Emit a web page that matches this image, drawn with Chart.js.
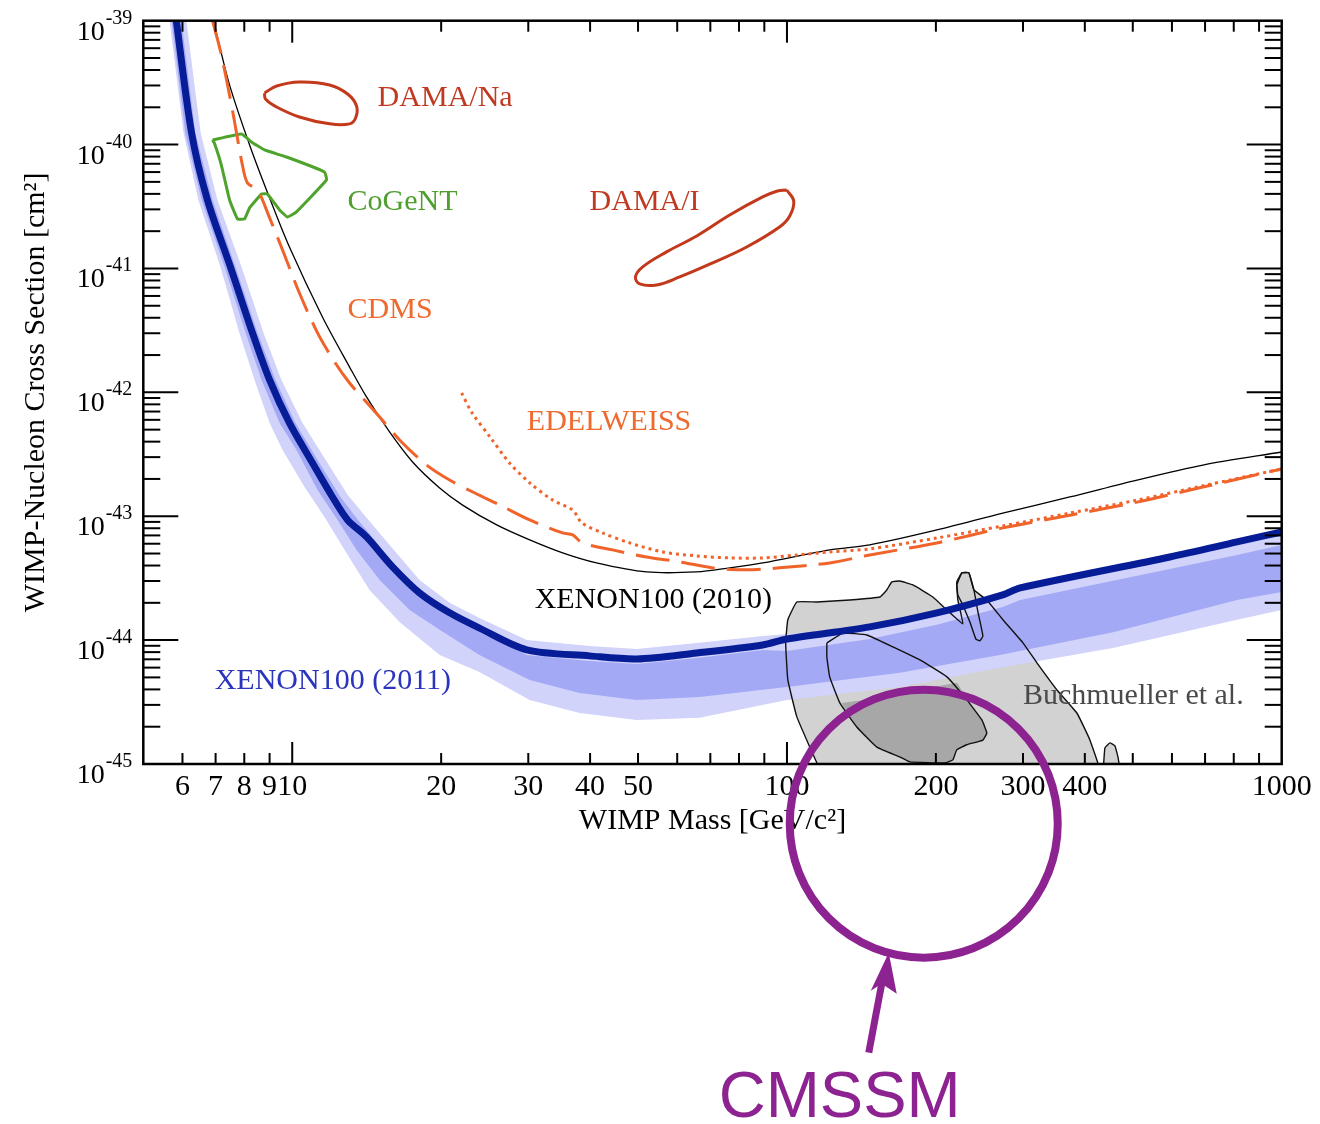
<!DOCTYPE html>
<html>
<head>
<meta charset="utf-8">
<script src="https://cdn.jsdelivr.net/npm/chart.js"></script>
<style>
  html, body { margin: 0; padding: 0; background: #fff; }
  #wrap { width: 1320px; height: 1124px; position: relative; }
</style>
</head>
<body>
<div id="wrap"><canvas id="limitChart"></canvas></div>
<script>
// WIMP mass in GeV/c^2, cross section in cm^2

// XENON100 (2011) limit, thick blue
const xenon2011Mass = [5.83, 6.26, 6.74, 7.50, 8.31, 9.00, 9.87, 10.99, 12.06, 12.94, 14.13, 15.95, 18.09, 20.8, 23.9, 29.8, 39.9, 49.7, 65.7, 89.3, 100, 147, 201, 273, 296, 594, 812, 1000];
const xenon2011Sigma = [1.0e-39, 1.24e-40, 3.57e-41, 1.03e-41, 3.02e-42, 1.26e-42, 5.66e-43, 2.69e-43, 1.43e-43, 9.33e-44, 6.81e-44, 3.90e-44, 2.40e-44, 1.66e-44, 1.25e-44, 8.34e-45, 7.46e-45, 7.05e-45, 7.88e-45, 9.14e-45, 1.02e-44, 1.28e-44, 1.66e-44, 2.32e-44, 2.64e-44, 4.69e-44, 6.20e-44, 7.47e-44];

// expected sensitivity, 2 sigma band (light)
const band2UpperMass = [6.11, 6.53, 7.06, 7.90, 8.75, 9.51, 10.49, 11.79, 12.94, 14.0, 15.73, 18.09, 20.8, 23.9, 29.8, 39.9, 49.7, 65.7, 89.3, 100, 147, 201, 273, 296, 594, 812, 1000];
const band2UpperSigma = [1.0e-39, 1.24e-40, 3.57e-41, 1.03e-41, 3.02e-42, 1.26e-42, 5.66e-43, 2.69e-43, 1.49e-43, 1.02e-43, 5.87e-44, 3.06e-44, 2.00e-44, 1.51e-44, 1.00e-44, 8.98e-45, 8.49e-45, 9.49e-45, 1.08e-44, 1.12e-44, 1.28e-44, 1.66e-44, 2.32e-44, 2.64e-44, 4.69e-44, 6.20e-44, 7.47e-44];
const band2LowerMass = [5.65, 6.03, 6.46, 7.16, 7.82, 8.39, 9.00, 9.56, 10.59, 11.62, 12.76, 14.33, 16.48, 19.86, 23.9, 30.2, 38.1, 49.7, 66.6, 100, 169.1, 269.4, 456, 812, 1000];
const band2LowerSigma = [1.0e-39, 1.24e-40, 3.57e-41, 1.03e-41, 3.02e-42, 1.26e-42, 5.66e-43, 3.43e-43, 1.72e-43, 9.87e-44, 5.35e-44, 2.54e-44, 1.40e-44, 7.59e-45, 5.54e-45, 3.29e-45, 2.58e-45, 2.27e-45, 2.36e-45, 3.29e-45, 4.19e-45, 5.97e-45, 8.65e-45, 1.46e-44, 1.75e-44];

// 1 sigma band (darker)
const band1UpperMass = [5.97, 6.37, 6.90, 7.68, 8.51, 9.25, 10.15, 11.35, 12.52, 13.43, 14.67, 16.48, 18.51, 20.8, 23.9, 29.8, 39.9, 49.7, 65.7, 89.3, 100, 147, 201, 273, 296, 594, 812, 1000];
const band1UpperSigma = [1.0e-39, 1.24e-40, 3.57e-41, 1.03e-41, 3.02e-42, 1.26e-42, 5.66e-43, 2.69e-43, 1.43e-43, 9.87e-44, 6.44e-44, 3.55e-44, 2.19e-44, 1.54e-44, 1.16e-44, 7.59e-45, 6.79e-45, 6.43e-45, 7.18e-45, 8.33e-45, 8.18e-45, 1.02e-44, 1.33e-44, 1.85e-44, 2.11e-44, 3.75e-44, 4.87e-44, 5.87e-44];
const band1LowerMass = [5.70, 6.08, 6.56, 7.30, 8.05, 8.67, 9.43, 10.20, 11.25, 12.35, 13.49, 15.02, 17.27, 19.86, 23.9, 30.2, 38.1, 49.7, 66.6, 100, 169.1, 269.4, 456, 812, 1000];
const band1LowerSigma = [1.0e-39, 1.24e-40, 3.57e-41, 1.03e-41, 3.02e-42, 1.26e-42, 5.66e-43, 3.43e-43, 1.63e-43, 9.34e-44, 5.35e-44, 3.06e-44, 1.75e-44, 1.21e-44, 7.59e-45, 4.77e-45, 3.75e-45, 3.29e-45, 3.48e-45, 4.19e-45, 5.44e-45, 7.59e-45, 1.16e-44, 2.11e-44, 2.45e-44];

// XENON100 (2010), thin black
const xenon2010Mass = [6.93, 7.47, 8.20, 9.00, 9.87, 11.51, 13.06, 14.13, 15.73, 17.51, 19.86, 22.1, 25.9, 30.2, 35.2, 41.2, 52.0, 65.7, 76.6, 89.3, 122, 147, 201, 273, 373, 510, 693, 1000];
const xenon2010Sigma = [1.0e-39, 3.03e-40, 9.93e-41, 3.71e-41, 1.49e-41, 4.06e-42, 1.60e-42, 9.18e-43, 4.79e-43, 2.74e-43, 1.69e-43, 1.23e-43, 8.51e-44, 6.44e-44, 5.06e-44, 4.20e-44, 3.55e-44, 3.55e-44, 3.83e-44, 4.20e-44, 5.35e-44, 5.87e-44, 7.75e-44, 1.06e-43, 1.43e-43, 1.96e-43, 2.59e-43, 3.30e-43];

// CDMS, dashed
const cdmsMass = [6.90, 7.19, 7.57, 7.93, 8.12, 8.51, 9.00, 9.56, 10.34, 11.25, 12.18, 13.06, 14.0, 15.02, 16.48, 18.69, 20.8, 23.4, 26.3, 30.2, 35.2, 36.9, 38.6, 44.4, 52.0, 60.7, 70.8, 82.9, 96.6, 122, 147, 201, 273, 373, 510, 693, 1000];
const cdmsSigma = [1.0e-39, 5.29e-40, 1.90e-40, 6.84e-41, 4.90e-41, 4.30e-41, 2.56e-41, 1.41e-41, 6.34e-42, 3.02e-42, 1.76e-42, 1.19e-42, 8.68e-43, 6.33e-43, 4.13e-43, 2.59e-43, 1.96e-43, 1.54e-43, 1.23e-43, 9.33e-44, 7.33e-44, 7.06e-44, 6.09e-44, 5.35e-44, 4.69e-44, 4.28e-44, 3.83e-44, 3.69e-44, 3.83e-44, 4.20e-44, 4.87e-44, 6.09e-44, 8.05e-44, 1.02e-43, 1.30e-43, 1.72e-43, 2.41e-43];

// EDELWEISS, dotted
const edelweissMass = [22.0, 23.1, 25.1, 27.5, 30.2, 33.6, 36.9, 38.5, 42.4, 48.1, 56.1, 65.7, 76.6, 89.3, 105, 122, 147, 201, 273, 373, 510, 693, 1000];
const edelweissSigma = [9.89e-43, 6.82e-43, 4.37e-43, 2.69e-43, 1.86e-43, 1.35e-43, 1.12e-43, 8.83e-44, 7.33e-44, 6.09e-44, 5.15e-44, 4.78e-44, 4.61e-44, 4.61e-44, 4.87e-44, 5.15e-44, 5.45e-44, 6.68e-44, 8.35e-44, 1.06e-43, 1.35e-43, 1.76e-43, 2.41e-43];

// closed contours
const damaNaMass = [8.79, 9.30, 10.34, 11.90, 12.94, 13.49, 13.43, 13.06, 11.90, 10.34, 9.30, 8.83, 8.79];
const damaNaSigma = [2.61e-40, 2.97e-40, 3.20e-40, 3.03e-40, 2.56e-40, 2.05e-40, 1.64e-40, 1.47e-40, 1.47e-40, 1.67e-40, 2.01e-40, 2.33e-40, 2.61e-40];

const damaIMass = [99.9, 103.2, 101.3, 96.6, 82.9, 70.8, 60.7, 54.5, 50.4, 49.4, 51.1, 57.1, 65.7, 76.6, 89.3, 95.7, 99.9];
const damaISigma = [4.30e-41, 3.51e-41, 2.65e-41, 2.16e-41, 1.49e-41, 1.11e-41, 8.54e-42, 7.36e-42, 7.50e-42, 8.54e-42, 1.03e-41, 1.36e-41, 1.83e-41, 2.70e-41, 3.78e-41, 4.22e-41, 4.30e-41];

const cogentMass = [6.90, 7.90, 8.27, 8.79, 9.74, 11.62, 11.73, 10.20, 9.78, 9.43, 8.91, 8.67, 8.20, 8.01, 7.75, 7.47, 7.19, 6.96, 6.90];
const cogentSigma = [1.09e-40, 1.22e-40, 1.05e-40, 9.05e-41, 7.94e-41, 6.01e-41, 5.18e-41, 2.86e-41, 2.60e-41, 2.97e-41, 3.99e-41, 3.99e-41, 3.08e-41, 2.51e-41, 2.51e-41, 3.57e-41, 6.84e-41, 1.03e-40, 1.09e-40];

// Buchmueller et al. (CMSSM) regions
const cmssmOuterMass = [118.1, 111.2, 104.7, 100.4, 99.4, 100.4, 104.7, 114.9, 134.0, 154.1, 159.1, 162.9, 169.1, 179.7, 197.2, 210.5, 226.7, 221.5, 220.4, 225.7, 233.2, 238.7, 253.5, 273.2, 299.9, 320.1, 351.3, 385.5, 409.6, 429.2, 118.1];
const cmssmOuterSigma = [8e-46, 1.37e-45, 2.40e-45, 4.77e-45, 9.49e-45, 1.46e-44, 2.03e-44, 2.03e-44, 2.11e-44, 2.23e-44, 2.54e-44, 2.95e-44, 3.00e-44, 2.79e-44, 2.23e-44, 1.75e-44, 1.35e-44, 2.11e-44, 2.95e-44, 3.49e-44, 3.49e-44, 2.54e-44, 2.11e-44, 1.46e-44, 9.49e-45, 6.55e-45, 3.96e-45, 2.58e-45, 1.56e-45, 8e-46, 8e-46];

const cmssmFingerMass = [220.4, 225.7, 233.2, 238.7, 243.2, 248.9, 245.4, 240.9, 234.3, 226.7, 221.5, 220.4];
const cmssmFingerSigma = [2.79e-44, 3.49e-44, 3.49e-44, 2.54e-44, 1.69e-44, 1.08e-44, 9.85e-45, 1.02e-44, 1.40e-44, 1.92e-44, 2.32e-44, 2.79e-44];

const cmssmIslandMass = [435.1, 439.2, 449.5, 460.1, 466.7, 471.0, 435.1];
const cmssmIslandSigma = [8e-46, 1.35e-45, 1.48e-45, 1.40e-45, 1.14e-45, 8e-46, 8e-46];

const cmssmInnerMass = [120.4, 129.7, 145.0, 163.7, 185.6, 210.5, 231.0, 247.7, 253.5, 248.9, 231.0, 220.4, 216.4, 208.5, 177.1, 169.1, 151.9, 138.4, 127.9, 122.0, 120.4, 120.4];
const cmssmInnerSigma = [9.49e-45, 1.14e-44, 1.10e-44, 8.81e-45, 6.92e-45, 5.05e-45, 3.29e-45, 2.27e-45, 1.78e-45, 1.56e-45, 1.43e-45, 1.30e-45, 1.08e-45, 1.02e-45, 1.04e-45, 1.14e-45, 1.37e-45, 1.99e-45, 3.11e-45, 5.05e-45, 7.32e-45, 9.49e-45];

const cmssmCoreMass = [129.1, 169.1, 220.4, 231.0, 247.7, 253.5, 248.9, 231.0, 220.4, 216.4, 208.5, 177.1, 169.1, 151.9, 138.4, 129.1];
const cmssmCoreSigma = [3.11e-45, 3.61e-45, 4.51e-45, 3.29e-45, 2.27e-45, 1.78e-45, 1.56e-45, 1.43e-45, 1.30e-45, 1.08e-45, 1.02e-45, 1.04e-45, 1.14e-45, 1.37e-45, 1.99e-45, 3.11e-45];

// axis ticks
const xTickValues = [6, 7, 8, 9, 10, 20, 30, 40, 50, 60, 70, 80, 90, 100, 200, 300, 400, 500, 600, 700, 800, 900, 1000];
const xTickLabels = ['6', '7', '8', '9', '10', '20', '30', '40', '50', '', '', '', '', '100', '200', '300', '400', '', '', '', '', '', '1000'];
const yDecades = [-45, -44, -43, -42, -41, -40, -39];
const yMinorSteps = [2, 3, 4, 5, 6, 7, 8, 9];

// text annotations inside the frame
const seriesLabels = [
    { text: 'DAMA/Na', mass: 14.88, sigma: 2.05e-40, color: '#c03a22' },
    { text: 'CoGeNT', mass: 12.94, sigma: 2.96e-41, color: '#4f9f2f' },
    { text: 'DAMA/I', mass: 39.9, sigma: 2.96e-41, color: '#c03a22' },
    { text: 'CDMS', mass: 12.94, sigma: 3.99e-42, color: '#ee6a2e' },
    { text: 'EDELWEISS', mass: 29.8, sigma: 4.97e-43, color: '#ee6a2e' },
    { text: 'XENON100 (2010)', mass: 30.9, sigma: 1.82e-44, color: '#000000' },
    { text: 'XENON100 (2011)', mass: 6.97, sigma: 4.04e-45, color: '#2a34bd' },
    { text: 'Buchmueller et al.', mass: 299.9, sigma: 3.05e-45, color: '#4a4a4a' }
];

const PURPLE = '#8c2390';
const SERIF = '"Liberation Serif", "Times New Roman", serif';

function toPoints(mass, sigma) {
    return mass.map((m, i) => ({ x: m, y: sigma[i] }));
}

function bandPolygon(upM, upS, loM, loS) {
    return toPoints(upM, upS).concat(toPoints(loM, loS).reverse());
}

function isDecade(v) {
    const l = Math.log10(v);
    return Math.abs(l - Math.round(l)) < 1e-6;
}

const yTickValues = [];
yDecades.forEach((d, i) => {
    const base = Math.pow(10, d);
    yTickValues.push(base);
    if (i < yDecades.length - 1) yMinorSteps.forEach(s => yTickValues.push(s * base));
});

function curve(label, pts, color, width, order, extra) {
    return Object.assign({
        label: label, data: pts, borderColor: color, borderWidth: width,
        pointRadius: 0, fill: false, tension: 0.3, order: order
    }, extra || {});
}

function region(label, pts, color, order) {
    return {
        label: label, data: pts, backgroundColor: color, borderColor: 'rgba(0,0,0,0)',
        borderWidth: 0, pointRadius: 0, fill: 'shape', tension: 0.1, order: order
    };
}

const outerPts = toPoints(cmssmOuterMass, cmssmOuterSigma);
const fingerPts = toPoints(cmssmFingerMass, cmssmFingerSigma);
const islandPts = toPoints(cmssmIslandMass, cmssmIslandSigma);
const innerPts = toPoints(cmssmInnerMass, cmssmInnerSigma);

const datasets = [
    region('CMSSM 95%', outerPts, '#d2d2d2', 20),
    region('CMSSM 95% b', fingerPts, '#d2d2d2', 20),
    region('CMSSM 95% c', islandPts, '#d2d2d2', 20),
    region('CMSSM 68%', toPoints(cmssmCoreMass, cmssmCoreSigma), '#a7a7a7', 19),
    Object.assign(region('2 sigma', bandPolygon(band2UpperMass, band2UpperSigma, band2LowerMass, band2LowerSigma), '#d1d3fa', 18), { tension: 0 }),
    Object.assign(region('1 sigma', bandPolygon(band1UpperMass, band1UpperSigma, band1LowerMass, band1LowerSigma), '#a4a9f6', 17), { tension: 0 }),
    curve('outer contour', outerPts, '#111', 1.4, 10, { tension: 0.1 }),
    curve('finger contour', fingerPts, '#111', 1.4, 10, { tension: 0.1 }),
    curve('island contour', islandPts, '#111', 1.4, 10, { tension: 0.1 }),
    curve('inner contour', innerPts, '#111', 1.4, 10, { tension: 0.1 }),
    curve('DAMA/Na', toPoints(damaNaMass, damaNaSigma), '#c3391c', 3, 6, { tension: 0.4 }),
    curve('DAMA/I', toPoints(damaIMass, damaISigma), '#c3391c', 3, 6, { tension: 0.4 }),
    curve('CoGeNT', toPoints(cogentMass, cogentSigma), '#4ea32c', 3, 6, { tension: 0.1 }),
    curve('XENON100 (2010)', toPoints(xenon2010Mass, xenon2010Sigma), '#000', 1.3, 6),
    curve('CDMS', toPoints(cdmsMass, cdmsSigma), '#f0632a', 3, 5, { borderDash: [34, 12] }),
    curve('EDELWEISS', toPoints(edelweissMass, edelweissSigma), '#f0632a', 3, 5, { borderDash: [3, 4] }),
    curve('XENON100 (2011)', toPoints(xenon2011Mass, xenon2011Sigma), '#071c97', 7, 1)
];

const overlayPlugin = {
    id: 'overlay',
    afterDatasetsDraw(chart) {
        const { ctx, chartArea: a, scales: { x, y } } = chart;
        ctx.save();
        ctx.strokeStyle = '#000';
        ctx.lineWidth = 2;
        const seg = (x1, y1, x2, y2) => { ctx.beginPath(); ctx.moveTo(x1, y1); ctx.lineTo(x2, y2); ctx.stroke(); };
        x.ticks.forEach(t => {
            const px = x.getPixelForValue(t.value);
            if (px < a.left + 2 || px > a.right - 2) return;
            const len = isDecade(t.value) ? 22 : 11;
            seg(px, a.bottom, px, a.bottom - len);
            seg(px, a.top, px, a.top + len);
        });
        y.ticks.forEach(t => {
            const py = y.getPixelForValue(t.value);
            if (py < a.top + 2 || py > a.bottom - 2) return;
            const len = isDecade(t.value) ? 35 : 17;
            seg(a.left, py, a.left + len, py);
            seg(a.right, py, a.right - len, py);
        });
        ctx.lineWidth = 2.5;
        ctx.strokeRect(a.left, a.top, a.right - a.left, a.bottom - a.top);

        // decade labels 10^n with a raised exponent
        ctx.fillStyle = '#000';
        ctx.textBaseline = 'alphabetic';
        const right = a.left - 11;
        yDecades.forEach(d => {
            const py = y.getPixelForValue(Math.pow(10, d));
            const exp = String(d);
            ctx.font = '20px ' + SERIF;
            const ew = ctx.measureText(exp).width;
            ctx.textAlign = 'left';
            ctx.fillText(exp, right - ew, py + 3);
            ctx.font = '28px ' + SERIF;
            ctx.textAlign = 'right';
            ctx.fillText('10', right - ew - 1, py + 19);
        });

        ctx.font = '30px ' + SERIF;
        ctx.textAlign = 'left';
        seriesLabels.forEach(l => {
            ctx.fillStyle = l.color;
            ctx.fillText(l.text, x.getPixelForValue(l.mass), y.getPixelForValue(l.sigma));
        });
        ctx.restore();
    },
    afterDraw(chart) {
        // CMSSM highlight circle with arrow and caption
        const { ctx, scales: { x, y } } = chart;
        const cx = x.getPixelForValue(189);
        const cy = y.getPixelForValue(3.3e-46);
        ctx.save();
        ctx.strokeStyle = PURPLE;
        ctx.fillStyle = PURPLE;
        ctx.lineWidth = 8;
        ctx.beginPath();
        ctx.arc(cx, cy, 134, 0, Math.PI * 2);
        ctx.stroke();
        ctx.lineWidth = 7;
        ctx.beginPath();
        ctx.moveTo(cx - 55, cy + 229);
        ctx.lineTo(cx - 42, cy + 160);
        ctx.stroke();
        ctx.beginPath();
        ctx.moveTo(cx - 35, cy + 129);
        ctx.lineTo(cx - 53, cy + 167);
        ctx.lineTo(cx - 42, cy + 160);
        ctx.lineTo(cx - 27, cy + 170);
        ctx.closePath();
        ctx.fill();
        ctx.font = '65px "Liberation Sans"';
        ctx.textAlign = 'left';
        ctx.textBaseline = 'alphabetic';
        ctx.fillText('CMSSM', cx - 205, cy + 293);
        ctx.restore();
    }
};

Chart.defaults.font.family = SERIF;
Chart.defaults.color = '#000';

const ctx = document.getElementById('limitChart').getContext('2d');
new Chart(ctx, {
    type: 'line',
    data: { datasets: datasets },
    options: {
        responsive: true,
        maintainAspectRatio: false,
        animation: false,
        events: [],
        layout: { padding: { left: 0, top: 20.7, right: 38.3, bottom: 280 } },
        plugins: { legend: { display: false }, tooltip: { enabled: false } },
        scales: {
            x: {
                type: 'logarithmic',
                min: 5,
                max: 1000,
                grid: { display: false },
                border: { display: false },
                afterBuildTicks: s => { s.ticks = xTickValues.map(v => ({ value: v })); },
                afterFit: s => { s.height = 80; },
                ticks: {
                    autoSkip: false, maxRotation: 0, minRotation: 0, padding: -3,
                    font: { size: 30 }, color: '#000',
                    callback: v => { const i = xTickValues.indexOf(v); return i >= 0 ? xTickLabels[i] : ''; }
                },
                title: { display: true, text: 'WIMP Mass [GeV/c\u00B2]', font: { size: 30 }, color: '#000', padding: { top: 0, bottom: 5 } }
            },
            y: {
                type: 'logarithmic',
                min: 1e-45,
                max: 1e-39,
                grid: { display: false },
                border: { display: false },
                afterBuildTicks: s => { s.ticks = yTickValues.map(v => ({ value: v })); },
                afterFit: s => { s.width = 143.3; },
                ticks: { autoSkip: false, display: true, callback: () => '' },
                title: { display: true, text: 'WIMP-Nucleon Cross Section [cm\u00B2]', font: { size: 30 }, color: '#000', padding: { top: 18, bottom: 0 } }
            }
        }
    },
    plugins: [overlayPlugin]
});
</script>
</body>
</html>
